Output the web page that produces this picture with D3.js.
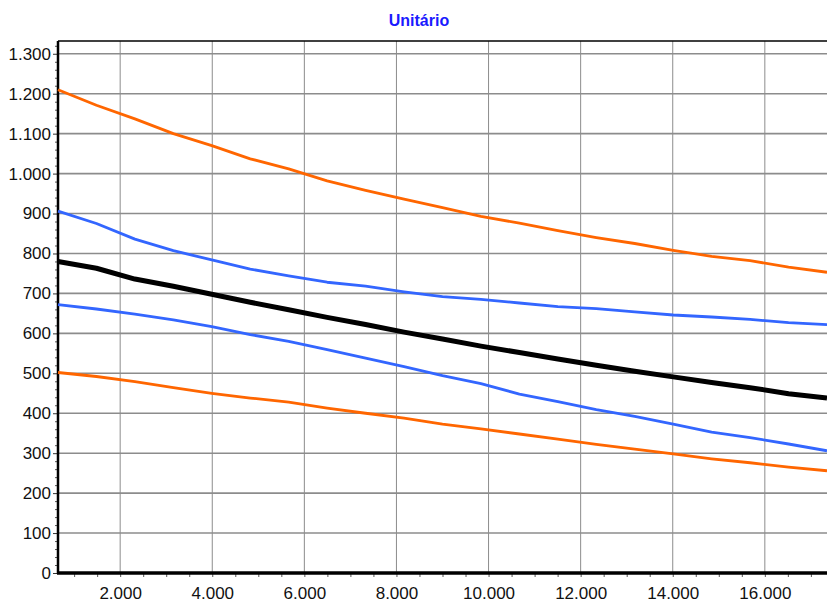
<!DOCTYPE html>
<html>
<head>
<meta charset="utf-8">
<script src="https://cdn.jsdelivr.net/npm/d3@7"></script>
<style>
  body { margin: 0; background: #fff; }
  svg { display: block; font-family: "Liberation Sans", Arial, sans-serif; }
</style>
</head>
<body>
<div id="chart-area"></div>
<script>
// data
var xValues = [650, 1485, 2320, 3155, 3990, 4825, 5660, 6495, 7330, 8165, 9000,
               9835, 10670, 11505, 12340, 13175, 14010, 14845, 15680, 16515, 17350];
var upperOrange = [1210, 1171, 1137, 1100, 1070, 1037, 1012, 982, 958, 936, 915,
                   893, 876, 857, 840, 825, 808, 793, 782, 766, 753];
var upperBlue = [906, 875, 836, 807, 784, 761, 744, 728, 718, 704, 692,
                 685, 676, 667, 662, 654, 646, 641, 635, 627, 622];
var mean = [780, 763, 736, 718, 698, 678, 659, 640, 622, 603, 586,
            568, 552, 536, 520, 505, 491, 477, 464, 449, 438];
var lowerBlue = [672, 661, 648, 634, 617, 597, 580, 559, 538, 517, 494,
                 474, 448, 429, 409, 392, 373, 353, 339, 323, 306];
var lowerOrange = [502, 492, 479, 464, 450, 438, 428, 413, 400, 388, 373,
                   361, 348, 335, 322, 310, 298, 286, 276, 265, 256];
var xTicks = [2000, 4000, 6000, 8000, 10000, 12000, 14000, 16000];
var yTicks = [0, 100, 200, 300, 400, 500, 600, 700, 800, 900, 1000, 1100, 1200, 1300];

var W = 827, H = 602;
var margin = {left: 58, right: 827, top: 41, bottom: 573};

var svg = d3.select("#chart-area").append("svg")
  .attr("width", W).attr("height", H);

var x = d3.scaleLinear().domain([650, 17350]).range([margin.left, margin.right]);
var y = d3.scaleLinear().domain([0, 1332]).range([margin.bottom, margin.top]);

var fmt = d => d3.format(",")(d).replace(/,/g, ".");

// title
svg.append("text")
  .attr("x", 419).attr("y", 26)
  .attr("text-anchor", "middle")
  .attr("font-weight", "bold")
  .attr("font-size", "16px")
  .attr("fill", "#1a1aff")
  .text("Unitário");

// grid
svg.append("g").selectAll("line")
  .data(yTicks.filter(d => d > 0))
  .enter().append("line")
  .attr("x1", margin.left).attr("x2", margin.right)
  .attr("y1", d => y(d)).attr("y2", d => y(d))
  .attr("stroke", "#8c8c8c").attr("stroke-width", 1.6);

svg.append("g").selectAll("line")
  .data(xTicks)
  .enter().append("line")
  .attr("x1", d => x(d)).attr("x2", d => x(d))
  .attr("y1", margin.top).attr("y2", margin.bottom)
  .attr("stroke", "#8c8c8c").attr("stroke-width", 1);

// top border
svg.append("line")
  .attr("x1", margin.left).attr("x2", margin.right)
  .attr("y1", margin.top).attr("y2", margin.top)
  .attr("stroke", "#000").attr("stroke-width", 1.5);

// y axis
var yAxis = d3.axisLeft(y).tickValues(yTicks).tickFormat(fmt).tickSize(5).tickPadding(2);
var yAxisGroup = svg.append("g")
  .attr("transform", `translate(${margin.left}, 0)`)
  .call(yAxis);
yAxisGroup.select(".domain").remove();
yAxisGroup.selectAll("text").attr("font-size", "17px").attr("fill", "#111")
  .attr("font-family", "'Liberation Sans', Arial, sans-serif");
yAxisGroup.selectAll(".tick line").attr("stroke", "#333");

var yMinor = d3.axisLeft(y).tickValues(d3.range(20, 1340, 20).filter(d => d % 100 != 0))
  .tickFormat("").tickSize(3);
svg.append("g").attr("transform", `translate(${margin.left}, 0)`).call(yMinor)
  .call(g => g.select(".domain").remove())
  .selectAll(".tick line").attr("stroke", "#555");

// x axis
var xAxis = d3.axisBottom(x).tickValues(xTicks).tickFormat(fmt).tickSize(4).tickPadding(10);
var xAxisGroup = svg.append("g")
  .attr("transform", `translate(0, ${margin.bottom})`)
  .call(xAxis);
xAxisGroup.select(".domain").remove();
xAxisGroup.selectAll("text").attr("font-size", "17px").attr("fill", "#111")
  .attr("font-family", "'Liberation Sans', Arial, sans-serif");
xAxisGroup.selectAll(".tick line").attr("stroke", "#555");

var xMinor = d3.axisBottom(x).tickValues(d3.range(1000, 17500, 500).filter(d => d % 2000 != 0))
  .tickFormat("").tickSize(4);
svg.append("g").attr("transform", `translate(0, ${margin.bottom})`).call(xMinor)
  .call(g => g.select(".domain").remove())
  .selectAll(".tick line").attr("stroke", "#555");

// axis lines
svg.append("line")
  .attr("x1", margin.left).attr("x2", margin.left).attr("y1", margin.top).attr("y2", margin.bottom + 1)
  .attr("stroke", "#000").attr("stroke-width", 2.5);
svg.append("line")
  .attr("x1", margin.left - 1).attr("x2", margin.right).attr("y1", margin.bottom).attr("y2", margin.bottom)
  .attr("stroke", "#000").attr("stroke-width", 3.5);

// series
var series = [
  {values: upperOrange, color: "#ff6600", width: 2.8},
  {values: lowerOrange, color: "#ff6600", width: 2.8},
  {values: upperBlue, color: "#3366ff", width: 2.8},
  {values: lowerBlue, color: "#3366ff", width: 2.8},
  {values: mean, color: "#000000", width: 5}
];

var line = d3.line()
  .x((d, i) => x(xValues[i]))
  .y(d => y(d));

svg.append("g").selectAll("path")
  .data(series)
  .enter().append("path")
  .attr("d", d => line(d.values))
  .attr("fill", "none")
  .attr("stroke", d => d.color)
  .attr("stroke-width", d => d.width)
  .attr("stroke-linejoin", "round");
</script>
</body>
</html>
